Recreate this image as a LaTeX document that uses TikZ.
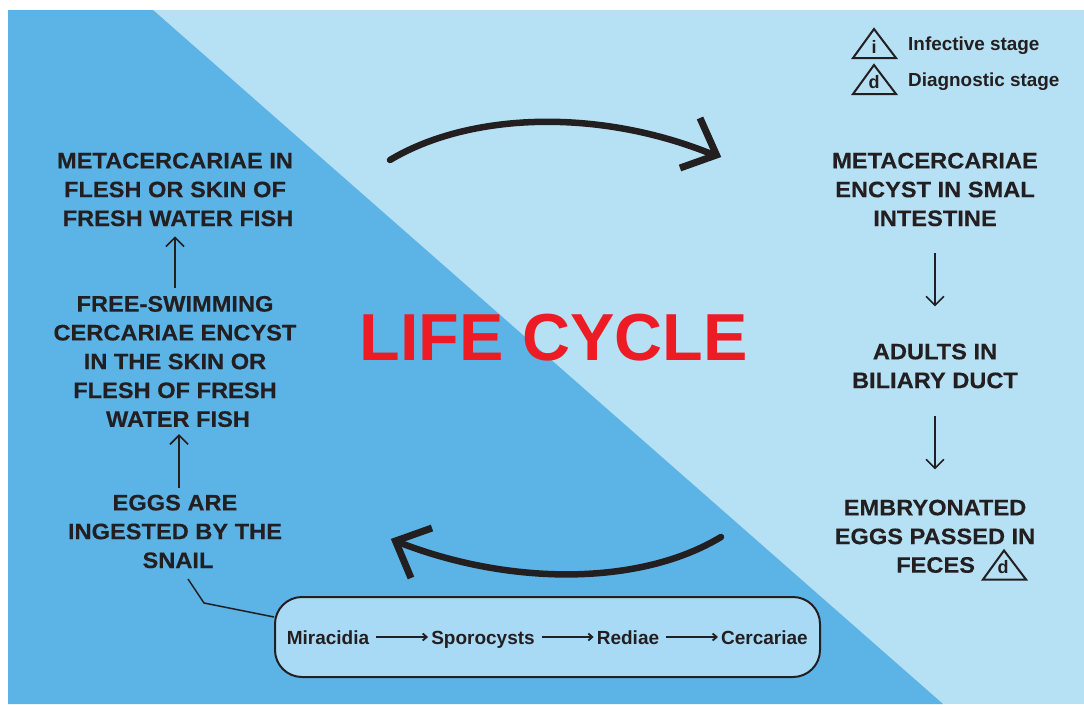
\documentclass[tikz,border=0pt]{standalone}
\usepackage{fontspec}
\setmainfont{Liberation Sans}
\newfontfamily\stagefont[UprightFont=* Bold,FakeStretch=1.055,FakeBold=0.25]{Liberation Sans}
\usetikzlibrary{arrows.meta}
\definecolor{ink}{HTML}{231F20}
\definecolor{darkblue}{HTML}{5CB3E6}
\definecolor{lightblue}{HTML}{B6E1F4}
\definecolor{boxblue}{HTML}{A9DAF5}
\definecolor{lifered}{HTML}{ED1C24}
\tikzset{
 stage/.style={font=\stagefont\fontsize{22.4}{28.8}\selectfont,text=ink,align=center,inner sep=0pt},
 small/.style={font=\bfseries\fontsize{18.9}{22}\selectfont,text=ink,inner sep=0pt,anchor=base west},
 flow/.style={font=\bfseries\fontsize{19}{22}\selectfont,text=ink,inner sep=0pt,anchor=base},
 thin arrow/.style={draw=ink,line width=1.6pt,-{Straight Barb[length=9pt,width=18pt]}},
 flow arrow/.style={draw=ink,line width=1.8pt,-{Straight Barb[length=4pt,width=7pt]}},
 big curve/.style={draw=ink,line width=6.5pt,line cap=round},
 big barb/.style={draw=ink,line width=7pt,line join=miter},
 marker/.style={draw=ink,line width=2pt,line join=miter},
 marker letter/.style={font=\bfseries\fontsize{18}{22}\selectfont,text=ink,inner sep=0pt},
}
\begin{document}
\begin{tikzpicture}[x=1pt,y=-1pt]
\useasboundingbox (0,0) rectangle (1084,704);
\fill[white] (0,0) rectangle (1084,704);
\fill[lightblue] (8,10) rectangle (1084,704);
\fill[darkblue] (8,10) -- (153,10) -- (943,704) -- (8,704) -- cycle;

% legend
\draw[marker] (874,29) -- (896,58) -- (853,58) -- cycle;
\node[marker letter] (li) at (874,47) {i};
\draw[marker] (874,65) -- (896,94) -- (853,94) -- cycle;
\node[marker letter] (ld) at (874,82) {d};
\node[small] (infective) at (908,50) {Infective stage};
\node[small] (diagnostic) at (908,86) {Diagnostic stage};

% stage texts
\node[stage] (meta) at (175,189.5) {METACERCARIAE IN\\FLESH OR SKIN OF\\\hspace*{6pt}FRESH WATER FISH};
\node[stage] (free) at (175,361.5) {FREE-SWIMMING\\CERCARIAE ENCYST\\IN THE SKIN OR\\FLESH OF FRESH\\\hspace*{6pt}WATER FISH};
\node[stage] (eggs) at (175,531.5) {EGGS ARE\\INGESTED BY THE\\\hspace*{6pt}SNAIL};
\node[stage] (encyst) at (935,189.5) {METACERCARIAE\\ENCYST IN SMAL\\INTESTINE};
\node[stage] (adults) at (935,366) {ADULTS IN\\BILIARY DUCT};
\node[stage] (embryo) at (935,522) {EMBRYONATED\\EGGS PASSED IN};
\node[stage,anchor=west] (feces) at (896,565) {FECES};
\draw[marker] (1004,550.5) -- (1026,579.5) -- (983,579.5) -- cycle;
\node[marker letter] (fd) at (1003,567) {d};

\node[font=\bfseries\fontsize{66.5}{70}\selectfont,text=lifered,inner sep=0pt] (life) at (553.5,338) {LIFE CYCLE};

% vertical arrows
\draw[thin arrow,shorten <=8pt,shorten >=10pt] (free.north) -- (meta.south);
\draw[thin arrow,shorten <=7pt,shorten >=7pt] ([xshift=4pt]eggs.north) -- ([xshift=4pt]free.south);
\draw[thin arrow,shorten <=27pt,shorten >=37pt] (encyst.south) -- (adults.north);
\draw[thin arrow,shorten <=27pt,shorten >=30pt] (adults.south) -- (embryo.north);

% big curved arrows
\coordinate (t1) at (390,160); \coordinate (t2) at (714,155);
\coordinate (tb1) at (700,118); \coordinate (tb2) at (680,168);
\draw[big curve] (t1) .. controls (470,112) and (600,108) .. (t2);
\draw[big barb] (tb1) -- (716.5,155) -- (tb2);
\coordinate (b1) at (721,537); \coordinate (b2) at (398,542);
\coordinate (bb1) at (432,528); \coordinate (bb2) at (411,578);
\draw[big curve] (b1) .. controls (640,586) and (510,586) .. (b2);
\draw[big barb] (bb1) -- (395.5,541) -- (bb2);

% developmental box
\node[draw=ink,line width=2pt,fill=boxblue,rounded corners=27pt,minimum width=545pt,minimum height=80pt,inner sep=0pt] (box) at (547.5,637) {};
\coordinate (cbend) at (204,603);
\coordinate (cstart) at (188,579);
\draw[draw=ink,line width=1.5pt] (cstart) -- (cbend) -- (box.west |- 0,617);

\node[flow] (mir) at (328,644) {Miracidia};
\node[flow] (spo) at (483,644) {Sporocysts};
\node[flow] (red) at (628,644) {Rediae};
\node[flow] (cer) at (764.5,644) {Cercariae};
\draw[flow arrow,shorten <=7pt,shorten >=3pt] (mir.east |- box.center) -- (spo.west |- box.center);
\draw[flow arrow,shorten <=7pt,shorten >=3pt] (spo.east |- box.center) -- (red.west |- box.center);
\draw[flow arrow,shorten <=7pt,shorten >=3pt] (red.east |- box.center) -- (cer.west |- box.center);
\end{tikzpicture}
\end{document}
